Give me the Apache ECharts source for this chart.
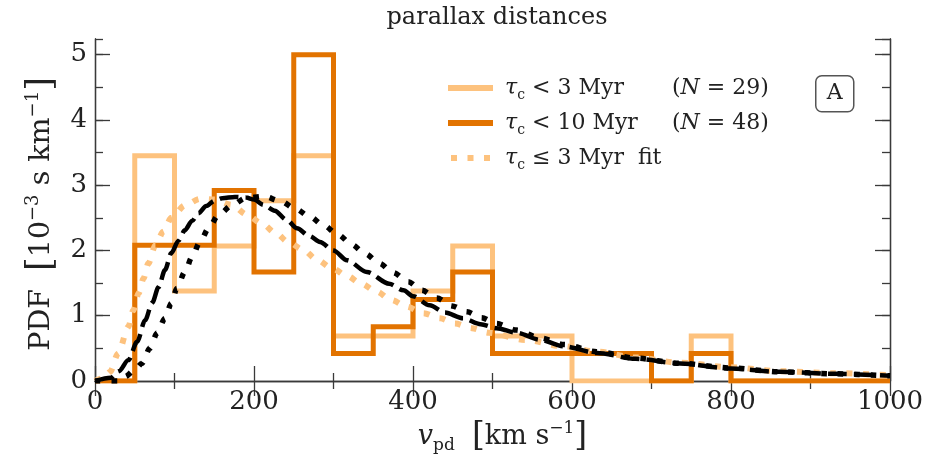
<!DOCTYPE html>
<html><head><meta charset="utf-8">
<script src="https://cdn.jsdelivr.net/npm/echarts@6/dist/echarts.min.js"></script>
<style>html,body{margin:0;padding:0;background:#fff}#c{width:943px;height:462px}</style>
</head><body><div id="c"></div>
<script>
// ---- data ----
const binEdges = [0,50,100,150,200,250,300,350,400,450,500,550,600,650,700,750,800,850,900,950,1000];
const pdfLt3  = [0,3.45,1.38,2.07,2.76,3.45,0.69,0.69,1.38,2.07,0.69,0.69,0,0,0,0.69,0,0,0,0];
const pdfLt10 = [0,2.08,2.08,2.92,1.67,5.00,0.42,0.83,1.25,1.67,0.42,0.42,0.42,0.42,0,0.42,0,0,0,0];

const fitLightX = [0,10,19,29,42,48,55,61,67,76,86,96,113,132,150,172,191,210,228,243,262,279,298,317,335,354,373,392,413,434,453,474,495,541,590,631,680,736,800,862,930,1000];
const fitLightY = [0,0.04,0.14,0.42,0.83,1.08,1.35,1.57,1.80,2.08,2.29,2.50,2.69,2.79,2.78,2.70,2.55,2.41,2.26,2.13,2.01,1.86,1.73,1.61,1.49,1.37,1.24,1.14,1.04,0.96,0.88,0.81,0.74,0.63,0.53,0.45,0.36,0.28,0.21,0.15,0.12,0.09];

const fitDashX = [0,20,30,42,53,63,72,80,88,96,105,113,122,130,140,150,160,176,190,200,212,226,241,254,270,283,300,317,342,370,388,400,421,440,463,485,505,530,560,590,631,680,736,800,862,930,1000];
const fitDashY = [0,0.05,0.15,0.32,0.60,0.93,1.20,1.44,1.70,1.96,2.15,2.31,2.45,2.57,2.68,2.76,2.80,2.82,2.81,2.78,2.70,2.61,2.47,2.34,2.22,2.13,2.00,1.85,1.67,1.49,1.39,1.30,1.16,1.05,0.96,0.87,0.81,0.74,0.63,0.53,0.43,0.34,0.27,0.19,0.14,0.11,0.08];

const fitDotX = [0,30,38,50,59,69,78,88,96,103,113,122,132,143,155,172,189,212,233,252,270,287,306,323,340,358,375,394,411,430,449,468,486,505,530,560,590,631,680,736,800,862,930,1000];
const fitDotY = [0,0,0.07,0.17,0.27,0.50,0.73,0.96,1.19,1.42,1.67,1.90,2.13,2.34,2.54,2.69,2.80,2.83,2.76,2.64,2.52,2.39,2.24,2.09,1.95,1.80,1.66,1.52,1.39,1.27,1.15,1.06,0.97,0.88,0.78,0.66,0.56,0.45,0.35,0.27,0.20,0.14,0.11,0.08];

const xTicks = [0,200,400,600,800,1000];
const yTicks = [0,1,2,3,4,5];

// ---- styling ----
const F = 'DejaVu Serif';
const C = '#222';
const LIGHT = '#FDC27E';
const DARK = '#E27300';
const AX = '#3a3a3a';

function stepPts(edges, vals){
  const p = [[edges[0], 0]];
  for (let i = 0; i < vals.length; i++){ p.push([edges[i], vals[i]]); p.push([edges[i+1], vals[i]]); }
  p.push([edges[edges.length-1], 0]);
  return p;
}
const zip = (a,b) => a.map((v,i)=>[v,b[i]]);

const axLine = {show:true, lineStyle:{color:AX, width:1.3}};
const tickMaj = {show:true, inside:true, length:15, lineStyle:{color:AX, width:1.3}};
const tickMin = {show:true, inside:true, length:8, lineStyle:{color:AX, width:1.3}};

const xBase = {type:'value', min:0, max:1000, interval:200, splitLine:{show:false}, axisLine:axLine,
  axisTick:tickMaj, minorTick:{show:true, splitNumber:2, length:8, lineStyle:{color:AX, width:1.3}}};
const yBase = {type:'value', min:0, max:5.24, splitLine:{show:false}, axisLine:axLine};

const rt = {
  g:{fontFamily:F, fontSize:22, color:C, lineHeight:28, width:7},
  n:{fontFamily:F, fontSize:22, color:C, lineHeight:28},
  i:{fontFamily:F, fontSize:22, color:C, fontStyle:'italic', lineHeight:28},
  s:{fontFamily:F, fontSize:14, color:C, lineHeight:14, verticalAlign:'bottom'},
  m:{fontFamily:F, fontSize:22, color:C, lineHeight:28, width:147}
};
const legendText = {
  lt3:  '{g|}{i|τ}{s|c}{m| < 3 Myr}{n|(}{i|N}{n| = 29)}',
  lt10: '{g|}{i|τ}{s|c}{m| < 10 Myr}{n|(}{i|N}{n| = 48)}',
  fit:  '{g|}{i|τ}{s|c}{n| ≤ 3 Myr  fit}'
};

const chart = echarts.init(document.getElementById('c'), null, {renderer:'canvas'});
chart.setOption({
  animation:false,
  backgroundColor:'#fff',
  title:{text:'parallax distances', left:492, top:1, textAlign:'center',
    textStyle:{fontFamily:F, fontSize:24, fontWeight:'normal', color:C}},
  grid:{left:95, right:53, top:39, bottom:81, containLabel:false, outerBoundsMode:'none'},
  xAxis:[
    Object.assign({}, xBase, {position:'bottom',
      axisLabel:{show:true, fontFamily:F, fontSize:26, color:C, margin:8,
        formatter: v => xTicks.includes(v) ? String(v) : ''},
      name:'{iv|v}{sb|pd}{n|  }{b|[}{n|km s}{sp|−1}{b|]}', nameLocation:'middle', nameGap:37,
      nameTextStyle:{padding:[0,0,0,20], rich:{
        iv:{fontFamily:F, fontSize:27, fontStyle:'italic', color:C, lineHeight:34},
        sb:{fontFamily:F, fontSize:17, color:C, lineHeight:17, verticalAlign:'bottom'},
        n:{fontFamily:F, fontSize:27, color:C, lineHeight:34},
        b:{fontFamily:F, fontSize:33, color:C, lineHeight:34},
        sp:{fontFamily:F, fontSize:17, color:C, lineHeight:17, verticalAlign:'top'}
      }}}),
    Object.assign({}, xBase, {position:'top', axisLabel:{show:false}})
  ],
  yAxis:[
    Object.assign({}, yBase, {position:'left', interval:1, axisTick:tickMaj,
      axisLabel:{show:true, showMaxLabel:false, fontFamily:F, fontSize:26, color:C, margin:8,
        formatter: v => yTicks.includes(v) ? String(v) : ''},
      name:'{n|PDF  }{b|[}{n|10}{sp|−3}{n| s km}{sp|−1}{b|]}', nameLocation:'middle', nameGap:33, nameRotate:90,
      nameTextStyle:{padding:[0,8,0,0], rich:{
        n:{fontFamily:F, fontSize:28.5, color:C, lineHeight:35},
        b:{fontFamily:F, fontSize:35, color:C, lineHeight:35},
        sp:{fontFamily:F, fontSize:18, color:C, lineHeight:18, verticalAlign:'top'}
      }}}),
    Object.assign({}, yBase, {position:'left', interval:0.5, axisTick:tickMin, axisLabel:{show:false}}),
    Object.assign({}, yBase, {position:'right', interval:1, axisTick:tickMaj, axisLabel:{show:false}}),
    Object.assign({}, yBase, {position:'right', interval:0.5, axisTick:tickMin, axisLabel:{show:false}})
  ],
  legend:{
    orient:'vertical', left:443, top:72, itemWidth:45, itemHeight:6, itemGap:10,
    data:[
      {name:'lt3', icon:'path://M0,0H45V6H0Z'},
      {name:'lt10', icon:'path://M0,0H45V6H0Z'},
      {name:'fit', icon:'path://M0,0H6V6H0ZM16.5,0H22.5V6H16.5ZM33,0H39V6H33Z'}
    ],
    formatter: name => legendText[name],
    textStyle:{fontFamily:F, fontSize:22, color:C, rich:rt},
    selectedMode:false
  },
  graphic:[{
    type:'group', left:815, top:75, children:[
      {type:'rect', shape:{x:0, y:0, width:38, height:36, r:6}, style:{fill:'#fff', stroke:'#555', lineWidth:1.5}},
      {type:'text', x:19, y:18, style:{text:'A', font:'22px "DejaVu Serif"', fill:C, align:'center', verticalAlign:'middle'}}
    ]
  }],
  series:[
    {name:'lt3', type:'line', data:stepPts(binEdges, pdfLt3), symbol:'none', z:2,
      itemStyle:{color:LIGHT}, lineStyle:{color:LIGHT, width:5, join:'miter'}},
    {name:'lt10', type:'line', data:stepPts(binEdges, pdfLt10), symbol:'none', z:3,
      itemStyle:{color:DARK}, lineStyle:{color:DARK, width:5, join:'miter'}},
    {name:'fit', type:'line', data:zip(fitLightX, fitLightY), symbol:'none', z:4, smooth:0.3, smoothMonotone:'x',
      itemStyle:{color:LIGHT}, lineStyle:{color:LIGHT, width:6, type:[6,10.5], cap:'butt'}},
    {name:'dash', type:'line', data:zip(fitDashX, fitDashY), symbol:'none', z:5, smooth:0.3, smoothMonotone:'x',
      itemStyle:{color:'#000'}, lineStyle:{color:'#000', width:4.5, type:[19,7]}},
    {name:'dot', type:'line', data:zip(fitDotX, fitDotY), symbol:'none', z:6, smooth:0.3, smoothMonotone:'x',
      itemStyle:{color:'#000'}, lineStyle:{color:'#000', width:5.5, type:[5.5,11]}}
  ]
});
</script>
</body></html>
